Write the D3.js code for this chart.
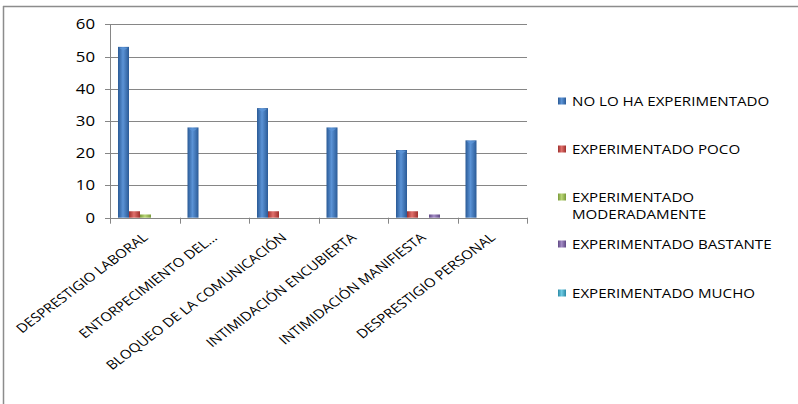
<!DOCTYPE html>
<html><head><meta charset="utf-8">
<script src="https://cdn.jsdelivr.net/npm/d3@7"></script>
<style>
html,body{margin:0;padding:0;background:#fff;}
svg{display:block;}
text{font-family:"Open Sans",sans-serif;fill:#000;}
</style></head>
<body>
<script>
const categories = ["DESPRESTIGIO LABORAL","ENTORPECIMIENTO DEL...","BLOQUEO DE LA COMUNICACIÓN","INTIMIDACIÓN ENCUBIERTA","INTIMIDACIÓN MANIFIESTA","DESPRESTIGIO PERSONAL"];
const seriesNames = ["NO LO HA EXPERIMENTADO","EXPERIMENTADO POCO","EXPERIMENTADO MODERADAMENTE","EXPERIMENTADO BASTANTE","EXPERIMENTADO MUCHO"];
const legendLines = [["NO LO HA EXPERIMENTADO"],["EXPERIMENTADO POCO"],["EXPERIMENTADO","MODERADAMENTE"],["EXPERIMENTADO BASTANTE"],["EXPERIMENTADO MUCHO"]];
const noLoHa = [53,28,34,28,21,24];
const poco = [2,0,2,0,2,0];
const moderadamente = [1,0,0,0,0,0];
const bastante = [0,0,0,0,1,0];
const mucho = [0,0,0,0,0,0];
const seriesValues = [noLoHa,poco,moderadamente,bastante,mucho];
const yTicks = [0,10,20,30,40,50,60];
const colors = [
  {dark:"#2a5a96",light:"#5b93d6"},
  {dark:"#9e2f2c",light:"#e0706c"},
  {dark:"#7a9a3a",light:"#b9d676"},
  {dark:"#5f4884",light:"#a48cc6"},
  {dark:"#2b8aa6",light:"#6fcbe3"}
];

const W=798,H=404;
const svg=d3.select("body").append("svg").attr("width",W).attr("height",H);
const defs=svg.append("defs");
colors.forEach((c,i)=>{
  const g=defs.append("linearGradient").attr("id","g"+i).attr("x1","0").attr("x2","1").attr("y1","0").attr("y2","0");
  g.append("stop").attr("offset","0%").attr("stop-color",c.dark);
  g.append("stop").attr("offset","45%").attr("stop-color",c.light);
  g.append("stop").attr("offset","100%").attr("stop-color",c.dark);
});

// frame
svg.append("line").attr("x1",3.5).attr("x2",3.5).attr("y1",6).attr("y2",H).attr("stroke","#8c8c8c").attr("stroke-width",1.5);
svg.append("line").attr("x1",3).attr("x2",W).attr("y1",6.5).attr("y2",6.5).attr("stroke","#8c8c8c").attr("stroke-width",1.5);

const pL=110,pR=527,pT=24.3,pB=217.7;
const x0=d3.scaleBand().domain(categories).range([pL,pR]).paddingInner(0).paddingOuter(0);
const bw=x0.bandwidth();
const x1=d3.scaleBand().domain(d3.range(5)).range([8,8+55]).padding(0);
const y=d3.scaleLinear().domain([0,60]).range([pB,pT]);
const SX=1.2;

// gridlines
svg.append("g").selectAll("line").data(yTicks.filter(d=>d>0)).join("line")
  .attr("x1",pL).attr("x2",pR).attr("y1",d=>Math.round(y(d))+0.5).attr("y2",d=>Math.round(y(d))+0.5)
  .attr("stroke","#868686").attr("stroke-width",1);

// y axis
svg.append("line").attr("x1",pL+0.5).attr("x2",pL+0.5).attr("y1",pT).attr("y2",pB+0.5).attr("stroke","#868686");
svg.append("g").selectAll("line").data(yTicks).join("line")
  .attr("x1",pL-5).attr("x2",pL).attr("y1",d=>Math.round(y(d))+0.5).attr("y2",d=>Math.round(y(d))+0.5).attr("stroke","#868686");
svg.append("g").selectAll("text").data(yTicks).join("text")
  .attr("transform",d=>`translate(95,${y(d)+5}) scale(${SX},1)`)
  .attr("text-anchor","end").attr("font-size",14).text(d=>d);

// x axis
svg.append("line").attr("x1",pL).attr("x2",pR).attr("y1",Math.round(pB)+0.5).attr("y2",Math.round(pB)+0.5).attr("stroke","#868686");
const bounds=categories.map(c=>x0(c)).concat([pR]);
svg.append("g").selectAll("line").data(bounds).join("line")
  .attr("x1",d=>Math.round(d)+0.5).attr("x2",d=>Math.round(d)+0.5).attr("y1",pB).attr("y2",pB+6).attr("stroke","#868686");

// bars
const barData=[];
categories.forEach((c,ci)=>seriesValues.forEach((s,si)=>{ if(s[ci]>0) barData.push({c,si,v:s[ci]}); }));
svg.append("g").selectAll("rect").data(barData).join("rect")
  .attr("x",d=>x0(d.c)+x1(d.si)).attr("width",x1.bandwidth())
  .attr("y",d=>y(d.v)).attr("height",d=>pB-y(d.v))
  .attr("fill",d=>`url(#g${d.si})`);
svg.append("g").selectAll("path").data(barData.filter(d=>d.v>3)).join("path")
  .attr("d",d=>{const xx=x0(d.c)+x1(d.si),w=x1.bandwidth(),yy=y(d.v);return `M${xx+1},${yy+1}L${xx+w-1},${yy+1}L${xx+w/2},${yy+4}Z`;})
  .attr("fill",d=>colors[d.si].light).attr("opacity",0.9);

// x labels
svg.append("g").selectAll("text").data(categories).join("text")
  .attr("transform",c=>`translate(${x0(c)+bw/2+4},${pB+21}) scale(${SX},1) rotate(-42)`)
  .attr("text-anchor","end").attr("font-size",12.5).text(c=>c);

// legend
const legY=[101,149,197,244,293];
const lg=svg.append("g");
legendLines.forEach((lines,i)=>{
  lg.append("rect").attr("x",558).attr("y",legY[i]-3.5).attr("width",8).attr("height",7).attr("fill",`url(#g${i})`);
  lines.forEach((t,j)=>{
    lg.append("text").attr("transform",`translate(572,${legY[i]+4.5+j*17}) scale(${SX},1)`).attr("font-size",12.6).text(t);
  });
});
</script>
</body></html>
